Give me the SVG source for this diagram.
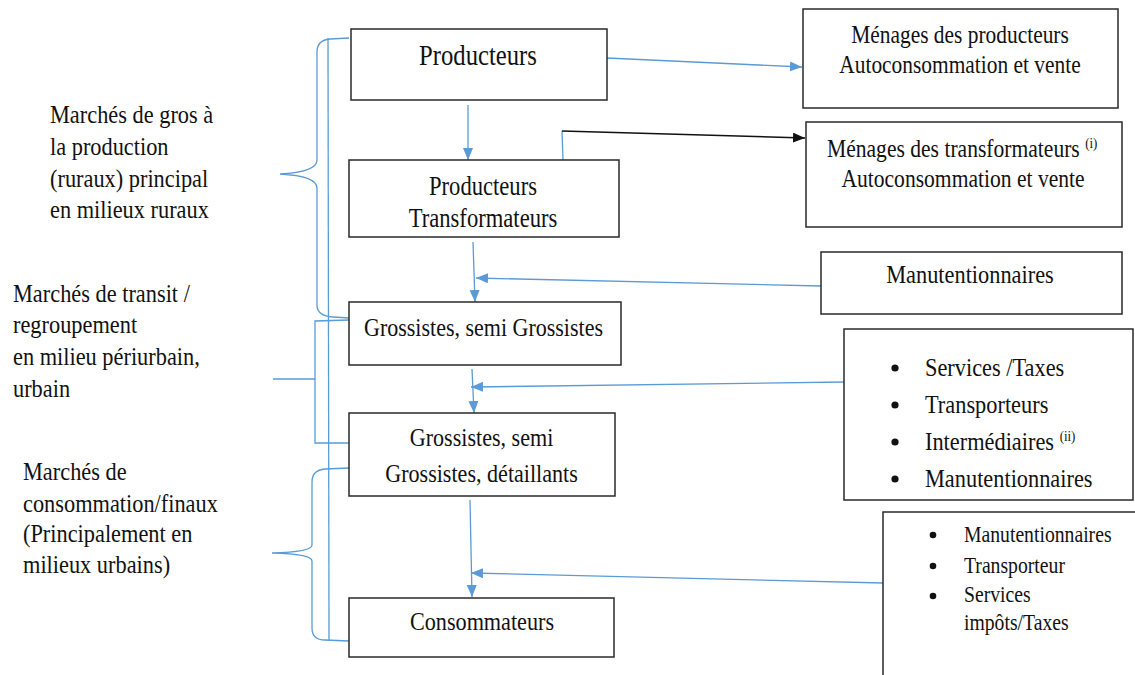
<svg xmlns="http://www.w3.org/2000/svg" width="1135" height="675" viewBox="0 0 1135 675">
<style>
.t{font-family:"Liberation Serif","Times New Roman",serif;fill:#111}
.m{text-anchor:middle}
.box{fill:#fff;stroke:#2a2a2a;stroke-width:1.5}
.bl{fill:none;stroke:#5b9bd5;stroke-width:1.3}
.bk{fill:none;stroke:#111;stroke-width:1.4}
.sup{font-size:15px}
</style>
<defs>
<marker id="ab" markerUnits="userSpaceOnUse" markerWidth="13" markerHeight="11" refX="12" refY="5" orient="auto"><path d="M0,0 L12,5 L0,10 z" fill="#5b9bd5"/></marker>
<marker id="ak" markerUnits="userSpaceOnUse" markerWidth="13" markerHeight="11" refX="12" refY="5" orient="auto"><path d="M0,0 L12,5 L0,10 z" fill="#111"/></marker>
</defs>
<rect width="1135" height="675" fill="#fff"/>

<g id="connectors">
<path class="bl" marker-end="url(#ab)" d="M607,58 L802,67"/>
<path class="bl" marker-end="url(#ab)" d="M468,105 L468,160"/>
<path class="bl" d="M563,160 L562,131"/>
<path class="bk" marker-end="url(#ak)" d="M562,131 L805,138"/>
<path class="bl" marker-end="url(#ab)" d="M473,242 L475,302"/>
<path class="bl" marker-end="url(#ab)" d="M821,286 L476,278"/>
<path class="bl" marker-end="url(#ab)" d="M472,369 L474,413"/>
<path class="bl" marker-end="url(#ab)" d="M844,382 L471,387"/>
<path class="bl" marker-end="url(#ab)" d="M470,500 L472,597"/>
<path class="bl" marker-end="url(#ab)" d="M883,583 L471,573"/>
</g>

<g id="brackets">
<path class="bl" d="M349,38 L330,39 Q317,40 317,52 L317,160 Q317,172 280,174 Q317,176 317,188 L317,305 Q317,316 333,317 L349,318"/>
<path class="bl" d="M328,38 L329,640"/>
<path class="bl" d="M349,320 L315,321 L315,443 L349,443 M315,379 L273,379"/>
<path class="bl" d="M349,468 L325,469 Q312,470 312,482 L312,545 Q312,552 272,553 Q312,554 312,561 L312,628 Q312,640 325,640 L349,641"/>
</g>

<g id="label-gros">
<text class="t" style="font-size:26px" transform="matrix(0.86 0 0 1 50 0)"><tspan x="0" y="123">Marchés de gros à</tspan><tspan x="0" y="155">la production</tspan><tspan x="0" y="187">(ruraux) principal</tspan><tspan x="0" y="218">en milieux ruraux</tspan></text>
</g>
<g id="label-transit">
<text class="t" style="font-size:26px" transform="matrix(0.86 0 0 1 13 0)"><tspan x="0" y="302">Marchés de transit /</tspan><tspan x="0" y="333">regroupement</tspan><tspan x="0" y="365">en milieu périurbain,</tspan><tspan x="0" y="397">urbain</tspan></text>
</g>
<g id="label-conso">
<text class="t" style="font-size:26px" transform="matrix(0.86 0 0 1 23 0)"><tspan x="0" y="480">Marchés de</tspan><tspan x="0" y="512">consommation/finaux</tspan><tspan x="0" y="542">(Principalement en</tspan><tspan x="0" y="573">milieux urbains)</tspan></text>
</g>

<g id="producteurs">
<rect class="box" x="351" y="29" width="256" height="71"/>
<text class="t m" style="font-size:28.7px" transform="matrix(0.86 0 0 1 478 0)"><tspan x="0" y="65">Producteurs</tspan></text>
</g>
<g id="producteurs-transformateurs">
<rect class="box" x="349" y="160" width="270" height="77"/>
<text class="t m" style="font-size:26.3px" transform="matrix(0.86 0 0 1 483 0)"><tspan x="0" y="195">Producteurs</tspan><tspan x="0" y="227">Transformateurs</tspan></text>
</g>
<g id="grossistes">
<rect class="box" x="349" y="302" width="272" height="63"/>
<text class="t m" style="font-size:25.6px" transform="matrix(0.86 0 0 1 483.5 0)"><tspan x="0" y="336">Grossistes, semi Grossistes</tspan></text>
</g>
<g id="grossistes-detaillants">
<rect class="box" x="349" y="413" width="266" height="83"/>
<text class="t m" style="font-size:25.7px" transform="matrix(0.86 0 0 1 481.5 0)"><tspan x="0" y="446">Grossistes, semi</tspan><tspan x="0" y="482">Grossistes, détaillants</tspan></text>
</g>
<g id="consommateurs">
<rect class="box" x="349" y="598" width="265" height="59"/>
<text class="t m" style="font-size:25.8px" transform="matrix(0.86 0 0 1 482 0)"><tspan x="0" y="630">Consommateurs</tspan></text>
</g>

<g id="menages-producteurs">
<rect class="box" x="803" y="9" width="315" height="99"/>
<text class="t m" style="font-size:24.9px" transform="matrix(0.86 0 0 1 960 0)"><tspan x="0" y="43">Ménages des producteurs</tspan><tspan x="0" y="73">Autoconsommation et vente</tspan></text>
</g>
<g id="menages-transformateurs">
<rect class="box" x="806" y="122" width="316" height="105"/>
<text class="t" style="font-size:25.1px" transform="matrix(0.86 0 0 1 827 0)"><tspan x="0" y="157">Ménages des transformateurs <tspan class="sup" dy="-9">(i)</tspan></tspan></text>
<text class="t m" style="font-size:25.1px" transform="matrix(0.86 0 0 1 963 0)"><tspan x="0" y="187">Autoconsommation et vente</tspan></text>
</g>
<g id="manutentionnaires">
<rect class="box" x="821" y="252" width="301" height="62"/>
<text class="t m" style="font-size:26px" transform="matrix(0.86 0 0 1 970 0)"><tspan x="0" y="283">Manutentionnaires</tspan></text>
</g>
<g id="services">
<rect class="box" x="844" y="329" width="289" height="171"/>
<g fill="#111"><circle cx="895" cy="368" r="3.6"/><circle cx="895" cy="405" r="3.6"/><circle cx="895" cy="442" r="3.6"/><circle cx="895" cy="479" r="3.6"/></g>
<text class="t" style="font-size:26px" transform="matrix(0.86 0 0 1 925 0)"><tspan x="0" y="376">Services /Taxes</tspan><tspan x="0" y="413">Transporteurs</tspan><tspan x="0" y="450">Intermédiaires <tspan class="sup" dy="-9">(ii)</tspan></tspan><tspan x="0" y="487">Manutentionnaires</tspan></text>
</g>
<g id="services-consommation">
<path d="M1136,512 L883,512 L883,676" fill="none" stroke="#2a2a2a" stroke-width="1.5"/>
<g fill="#111"><circle cx="933" cy="535" r="3.3"/><circle cx="933" cy="566" r="3.3"/><circle cx="933" cy="596" r="3.3"/></g>
<text class="t" style="font-size:22.9px" transform="matrix(0.86 0 0 1 964 0)"><tspan x="0" y="542">Manutentionnaires</tspan><tspan x="0" y="573">Transporteur</tspan><tspan x="0" y="602">Services</tspan><tspan x="0" y="630">impôts/Taxes</tspan></text>
</g>
</svg>
